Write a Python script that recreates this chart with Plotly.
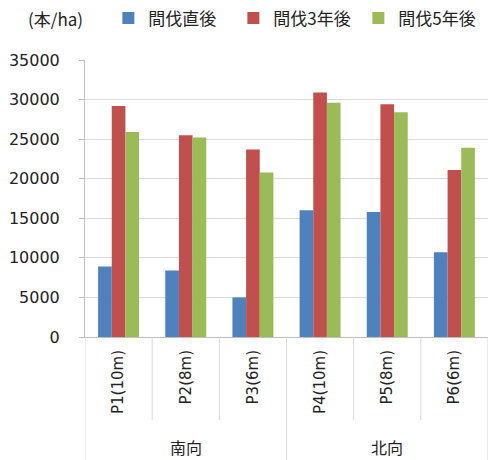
import plotly.graph_objects as go

plots = ["P1(10m)", "P2(8m)", "P3(6m)", "P4(10m)", "P5(8m)", "P6(6m)"]
group_names = ["南向", "北向"]
series_names = ["間伐直後", "間伐3年後", "間伐5年後"]
s_after = [8900, 8400, 5000, 16000, 15800, 10700]
s_3yr = [29200, 25500, 23700, 30900, 29400, 21100]
s_5yr = [25900, 25200, 20800, 29600, 28400, 23900]
colors = ["#4F81BD", "#C0504D", "#9BBB59"]
y_ticks = [0, 5000, 10000, 15000, 20000, 25000, 30000, 35000]

FONT = "Noto Sans CJK JP"
LATIN = "DejaVu Sans"
W, H = 492, 460
ML, MR, MT, MB = 85, 4, 60, 123
PH = H - MT - MB

fig = go.Figure()
for name, vals, col in zip(series_names, [s_after, s_3yr, s_5yr], colors):
    fig.add_trace(go.Bar(
        x=plots, y=vals, name=name,
        marker=dict(color=col, line=dict(width=0)),
    ))

fig.update_layout(
    width=W, height=H,
    margin=dict(l=ML, r=MR, t=MT, b=MB, autoexpand=False),
    paper_bgcolor="white", plot_bgcolor="white",
    barmode="group", bargap=0.39, bargroupgap=0,
    font=dict(family=FONT, size=15, color="#222"),
    legend=dict(orientation="h", x=0.058, xanchor="left", y=1.215, yanchor="top",
                font=dict(family=FONT, size=17, color="#222"),
                itemwidth=30, traceorder="normal",
                entrywidth=80, entrywidthmode="pixels",
                bgcolor="rgba(0,0,0,0)"),
    showlegend=True,
)
fig.update_yaxes(
    range=[0, 35000], tickvals=y_ticks, ticktext=[str(v) for v in y_ticks],
    showgrid=True, gridcolor="#d9d9d9", gridwidth=1,
    showline=True, linecolor="#bfbfbf", linewidth=1,
    ticks="outside", ticklen=5, tickcolor="#bfbfbf",
    ticklabelstandoff=16, tickfont=dict(family=LATIN, size=16, color="#222"),
    zeroline=False, automargin=False,
)
fig.update_xaxes(
    type="category", tickangle=-90, range=[-0.5, 5.5], automargin=False,
    showline=True, linecolor="#bfbfbf", linewidth=1,
    ticks="", ticklabelstandoff=6,
    tickfont=dict(family=LATIN, size=15, color="#222"),
)

# category separators (inner row) and group separators (outer row)
inner_len = 83 / PH
outer_len = MB / PH
for b in [0.5, 1.5, 3.5, 4.5]:
    fig.add_shape(type="line", xref="x", yref="paper", x0=b, x1=b, y0=0, y1=-inner_len,
                  line=dict(color="#d9d9d9", width=1))
for b in [-0.5, 2.5, 5.5]:
    fig.add_shape(type="line", xref="x", yref="paper", x0=b, x1=b, y0=0, y1=-outer_len,
                  line=dict(color="#d9d9d9", width=1))
for gname, cx in zip(group_names, [1, 4]):
    fig.add_annotation(text=gname, xref="x", yref="paper", x=cx, y=-(110 / PH),
                       xanchor="center", yanchor="middle", showarrow=False,
                       font=dict(family=FONT, size=16, color="#222"))

fig.add_annotation(text="(本/ha)", xref="paper", yref="paper", x=-0.072, y=1.0,
                   yshift=42, xanchor="center", yanchor="middle", showarrow=False,
                   font=dict(family=FONT, size=17, color="#222"))

fig.write_html("out.html", config={"displayModeBar": False},
               post_script="document.body.style.margin='0';")
